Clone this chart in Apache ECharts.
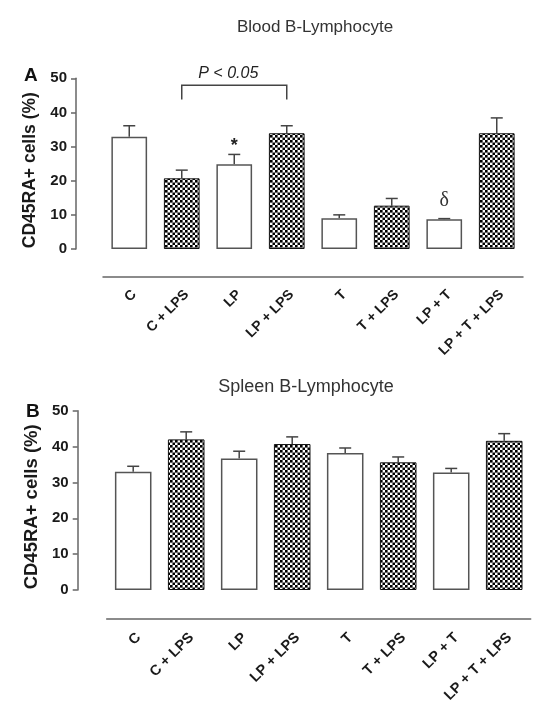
<!DOCTYPE html>
<html><head><meta charset="utf-8">
<script src="https://cdn.jsdelivr.net/npm/echarts@6/dist/echarts.min.js"></script>
<style>html,body{margin:0;padding:0;background:#fff}#c{width:560px;height:722px}</style>
</head><body><div id="c"></div>
<script>
const categories = ['C','C + LPS','LP','LP + LPS','T','T + LPS','LP + T','LP + T + LPS'];
const patterned = [false,true,false,true,false,true,false,true];
const bloodMean = [32.9,20.7,24.8,33.9,9.0,12.7,8.7,33.9];
const bloodSem  = [3.2,2.4,2.9,2.2,1.0,2.1,0.2,4.5];
const spleenMean = [33.0,42.0,36.7,40.7,38.2,35.6,32.8,41.6];
const spleenSem  = [1.5,2.1,2.0,2.0,1.4,1.5,1.1,2.0];
const yTicks = [0,10,20,30,40,50];
// significance annotations (panel A)
const bracket = [1, 3, 48.0, 43.8];      // from cat, to cat, top value, leg bottom value
const bracketLabel = ['P < 0.05', 51.3];
const starMark = ['*', 2, 31.0];
const deltaMark = ['δ', 6, 14.2];

const tile = document.createElement('canvas');
tile.width = 5; tile.height = 5;
const tc = tile.getContext('2d');
tc.fillStyle = '#fff'; tc.fillRect(0,0,5,5);
tc.fillStyle = '#000';
tc.fillRect(0,0,2.6,2.6); tc.fillRect(2.5,2.5,2.6,2.6);
const checker = {image: tile, repeat: 'repeat'};

const FONT = '"Liberation Sans", Arial, sans-serif';

function barData(vals){
  return vals.map((v,i)=>({value:v, itemStyle: patterned[i]
    ? {color: checker, borderColor:'#111', borderWidth:1}
    : {color:'#fff', borderColor:'#555', borderWidth:1.5}}));
}
function errData(vals, sem){ return vals.map((v,i)=>[i, v, v+sem[i]]); }
function errSeries(xi, vals, sem){
  return {type:'custom', xAxisIndex:xi, yAxisIndex:xi, silent:true, z:1,
    data: errData(vals, sem),
    renderItem(params, api){
      const p0 = api.coord([api.value(0), api.value(1)]);
      const p1 = api.coord([api.value(0), api.value(2)]);
      const s = {stroke:'#444', lineWidth:1.5};
      return {type:'group', children:[
        {type:'line', shape:{x1:p0[0],y1:p0[1],x2:p1[0],y2:p1[1]}, style:s},
        {type:'line', shape:{x1:p1[0]-6,y1:p1[1],x2:p1[0]+6,y2:p1[1]}, style:s}
      ]};
    }};
}
function xAxisCfg(gi, off, fs){
  return {type:'category', gridIndex:gi, data:categories, offset:off,
    axisLine:{onZero:false, lineStyle:{color:'#666', width:1.5}},
    axisTick:{alignWithLabel:true, length:4, lineStyle:{color:'#666', width:1.5}},
    axisLabel:{rotate:45, interval:0, margin:11, verticalAlign:'top', color:'#1a1a1a', fontFamily:FONT, fontWeight:'bold', fontSize:fs}};
}
function yAxisCfg(gi, off, fs){
  return {type:'value', gridIndex:gi, min:yTicks[0], max:yTicks[yTicks.length-1], interval:10, offset:off,
    name:'CD45RA+ cells (%)', nameLocation:'middle', nameGap:35,
    nameTextStyle:{color:'#1a1a1a', fontFamily:FONT, fontWeight:'bold', fontSize:fs, padding:[0,13,0,0]},
    splitLine:{show:false},
    axisLine:{show:true, onZero:false, lineStyle:{color:'#666', width:1.5}},
    axisTick:{show:true, length:5, lineStyle:{color:'#666', width:1.5}},
    axisLabel:{margin:9, color:'#1a1a1a', fontFamily:FONT, fontWeight:'bold', fontSize:15}};
}

const option = {
  animation:false,
  backgroundColor:'#fff',
  title:[
    {text:'Blood B-Lymphocyte', left:310, top:14, textAlign:'center', textStyle:{color:'#333', fontFamily:FONT, fontWeight:'normal', fontSize:17}},
    {text:'Spleen B-Lymphocyte', left:301, top:373, textAlign:'center', textStyle:{color:'#333', fontFamily:FONT, fontWeight:'normal', fontSize:18}},
    {text:'A', left:19, top:61, textStyle:{color:'#111', fontFamily:FONT, fontWeight:'bold', fontSize:19}},
    {text:'B', left:21, top:397, textStyle:{color:'#111', fontFamily:FONT, fontWeight:'bold', fontSize:19}}
  ],
  grid:[
    {left:103, right:37, top:78.3, bottom:473},
    {left:106.7, right:29.3, top:410.7, bottom:132}
  ],
  xAxis:[xAxisCfg(0, 27.5, 14), xAxisCfg(1, 29, 14.5)],
  yAxis:[yAxisCfg(0, 27, 17.5), yAxisCfg(1, 29, 18.5)],
  series:[
    {type:'bar', xAxisIndex:0, yAxisIndex:0, barCategoryGap:'32%', data:barData(bloodMean), z:2},
    {type:'bar', xAxisIndex:1, yAxisIndex:1, barCategoryGap:'31%', data:barData(spleenMean), z:2},
    errSeries(0, bloodMean, bloodSem),
    errSeries(1, spleenMean, spleenSem),
    {type:'custom', xAxisIndex:0, yAxisIndex:0, silent:true, z:3,
      data:[bracket],
      renderItem(params, api){
        const a = api.coord([api.value(0), api.value(2)]);
        const b = api.coord([api.value(1), api.value(2)]);
        const a2 = api.coord([api.value(0), api.value(3)]);
        const t = api.coord([(api.value(0)+api.value(1))/2, bracketLabel[1]]);
        return {type:'group', children:[
          {type:'polyline', shape:{points:[[a2[0],a2[1]],[a[0],a[1]],[b[0],b[1]],[b[0],a2[1]]]}, style:{stroke:'#444', lineWidth:1.5, fill:null}},
          {type:'text', x:t[0]-6, y:t[1], style:{text:bracketLabel[0], align:'center', verticalAlign:'middle', fill:'#222', font:'italic 16px '+FONT}}
        ]};
      }},
    {type:'custom', xAxisIndex:0, yAxisIndex:0, silent:true, z:3,
      data:[[starMark[1], starMark[2]]],
      renderItem(params, api){
        const p = api.coord([api.value(0), api.value(1)]);
        return {type:'text', x:p[0], y:p[1]+3, style:{text:starMark[0], align:'center', verticalAlign:'middle', fill:'#222', font:'bold 18px '+FONT}};
      }},
    {type:'custom', xAxisIndex:0, yAxisIndex:0, silent:true, z:3,
      data:[[deltaMark[1], deltaMark[2]]],
      renderItem(params, api){
        const p = api.coord([api.value(0), api.value(1)]);
        return {type:'text', x:p[0], y:p[1], style:{text:deltaMark[0], align:'center', verticalAlign:'middle', fill:'#333', font:'20px "Liberation Serif", "DejaVu Serif", serif'}};
      }}
  ]
};
const chart = echarts.init(document.getElementById('c'), null, {renderer:'canvas'});
chart.setOption(option);
</script></body></html>
